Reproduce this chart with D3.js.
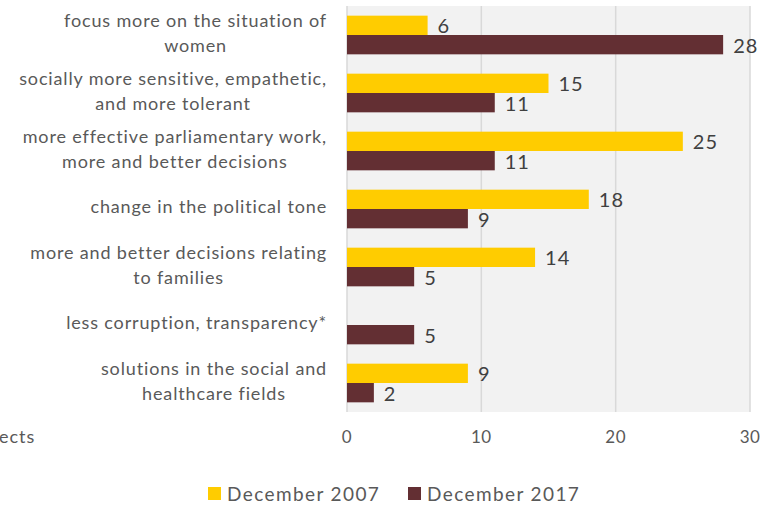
<!DOCTYPE html>
<html>
<head>
<meta charset="utf-8">
<script src="https://cdn.jsdelivr.net/npm/d3@7"></script>
<style>
  body { margin: 0; background: #fff; }
  text { font-family: Lato, "Open Sans", sans-serif; }
</style>
</head>
<body>
<svg id="chart" width="768" height="505"></svg>
<script>
const categories = [
    ["focus more on the situation of", "women"],
    ["socially more sensitive, empathetic,", "and more tolerant"],
    ["more effective parliamentary work,", "more and better decisions"],
    ["change in the political tone"],
    ["more and better decisions relating", "to families"],
    ["less corruption, transparency*"],
    ["solutions in the social and", "healthcare fields"]
];
const dec2007 = [6, 15, 25, 18, 14, null, 9];
const dec2017 = [28, 11, 11, 9, 5, 5, 2];
const seriesNames = ["December 2007", "December 2017"];
const colors = ["#ffcc00", "#632f33"];
const ticks = [0, 10, 20, 30];

const svg = d3.select("#chart");
const plotLeft = 347, plotRight = 750, plotTop = 6, plotBottom = 412;

const x = d3.scaleLinear().domain([0, 30]).range([plotLeft, plotRight]);
const y = d3.scaleBand().domain(d3.range(categories.length)).range([plotTop, plotBottom]);
const inner = d3.scaleBand().domain([0, 1]).range([0, y.bandwidth()]).paddingOuter(0.5).paddingInner(0);

// plot background
svg.append("rect")
    .attr("x", plotLeft).attr("y", plotTop).attr("width", plotRight - plotLeft).attr("height", plotBottom - plotTop)
    .style("fill", "#f2f2f2");

// gridlines
svg.append("g").selectAll("line")
    .data(ticks)
    .join("line")
    .attr("x1", d => x(d)).attr("x2", d => x(d))
    .attr("y1", plotTop).attr("y2", plotBottom)
    .style("stroke", "#d9d9d9").style("stroke-width", 1.5);

// x axis tick labels
svg.append("g").selectAll("text")
    .data(ticks)
    .join("text")
    .attr("x", d => x(d)).attr("y", 437)
    .attr("text-anchor", "middle").attr("dy", "0.35em")
    .style("font-size", "17px").style("letter-spacing", "0.5px").style("fill", "#595959")
    .text(d => d);

// bars
const series = [dec2007, dec2017];
series.forEach(function(vals, s) {
    const g = svg.append("g");
    const data = vals.map((v, i) => ({v: v, i: i})).filter(d => d.v != null);
    g.selectAll("rect")
        .data(data)
        .join("rect")
        .attr("x", x(0))
        .attr("y", d => y(d.i) + inner(s))
        .attr("width", d => x(d.v) - x(0))
        .attr("height", inner.bandwidth())
        .style("fill", colors[s]);
    g.selectAll("text")
        .data(data)
        .join("text")
        .attr("x", d => x(d.v) + 10)
        .attr("y", d => y(d.i) + inner(s) + inner.bandwidth() / 2 + 1)
        .attr("dy", "0.35em")
        .style("font-size", "20px").style("letter-spacing", "1px").style("fill", "#404040")
        .text(d => d.v);
});

// category labels, lines centred on the widest line which ends at 327
const lineH = 25.5;
categories.forEach(function(lines, i) {
    const g = svg.append("g");
    const cy = y(i) + y.bandwidth() / 2 - 2;
    const t = g.selectAll("text")
        .data(lines)
        .join("text")
        .attr("y", (d, j) => cy + (j - (lines.length - 1) / 2) * lineH)
        .attr("dy", "0.35em")
        .attr("text-anchor", "middle")
        .style("font-size", "18px").style("letter-spacing", "0.85px").style("fill", "#595959")
        .text(d => d);
    let w = 0;
    t.each(function() { w = Math.max(w, this.getComputedTextLength()); });
    t.attr("x", 327 - w / 2);
});

// cut-off text at left
svg.append("text").text("ects")
    .attr("x", -1).attr("y", 437).attr("dy", "0.35em")
    .style("font-size", "18px").style("letter-spacing", "1px").style("fill", "#595959");

// legend
const legendX = [208, 408];
seriesNames.forEach(function(name, s) {
    svg.append("rect")
        .attr("x", legendX[s]).attr("y", 487).attr("width", 13).attr("height", 13)
        .style("fill", colors[s]);
    svg.append("text")
        .attr("x", legendX[s] + 19).attr("y", 494).attr("dy", "0.35em")
        .style("font-size", "19px").style("letter-spacing", "1.4px").style("fill", "#595959")
        .text(name);
});
</script>
</body>
</html>
